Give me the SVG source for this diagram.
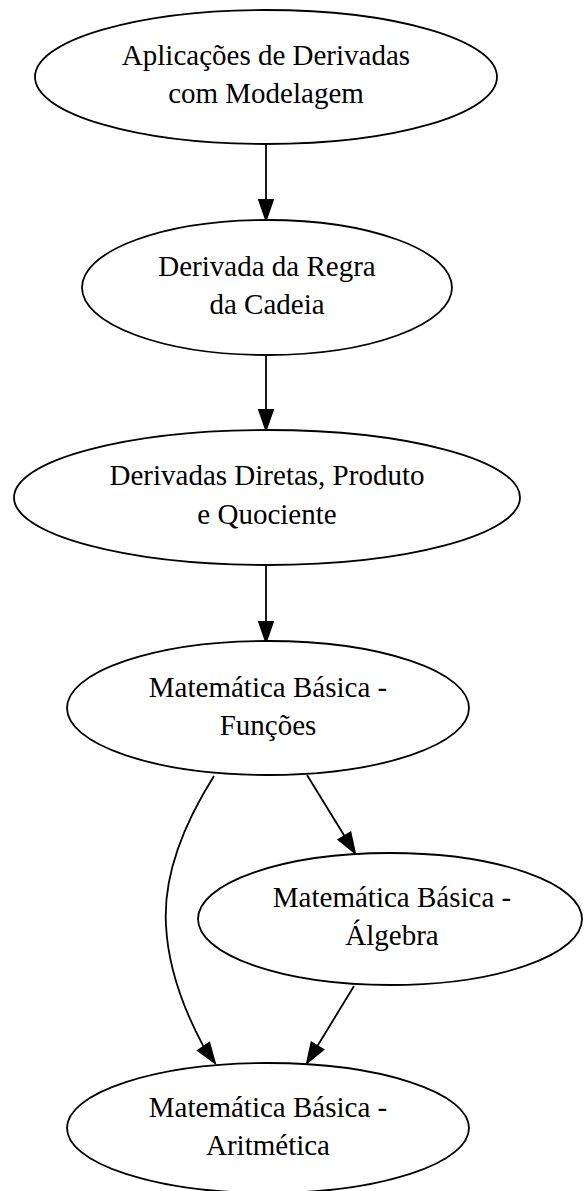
<svg xmlns="http://www.w3.org/2000/svg" width="584" height="1191" viewBox="0 0 584 1191">
<style>
.node ellipse{fill:#fff;stroke:#000;stroke-width:1.8}
.node text{font-family:"Liberation Serif","Times New Roman",serif;font-size:29px;fill:#000;text-anchor:middle}
.edge path{fill:none;stroke:#000;stroke-width:1.8}
.edge polygon{fill:#000;stroke:#000;stroke-width:1.8}
</style>
<rect width="584" height="1191" fill="#fff"/>
<g id="edges">
<g class="edge" id="e1"><path d="M266,144 L266,200"/><polygon points="266,220 259,200 273,200"/></g>
<g class="edge" id="e2"><path d="M266,355 L266,410"/><polygon points="266,430 259,410 273,410"/></g>
<g class="edge" id="e3"><path d="M266,565 L266,622"/><polygon points="266,642 259,622 273,622"/></g>
<g class="edge" id="e4"><path d="M307,775 L344.5,836"/><polygon points="355,853 338.5,839.7 350.5,832.4"/></g>
<g class="edge" id="e5"><path d="M214,776 C185,822 163,875 166,925 C168,968 184,1010 203.6,1046.6"/><polygon points="215,1063 197.9,1050.6 209.3,1042.6"/></g>
<g class="edge" id="e6"><path d="M354,986 L317.4,1046"/><polygon points="307,1063 311.4,1042.4 323.4,1049.7"/></g>
</g>
<g class="node" id="n1"><ellipse cx="266" cy="77" rx="231" ry="67"/><text x="266" y="65">Aplicações de Derivadas</text><text x="266" y="103">com Modelagem</text></g>
<g class="node" id="n2"><ellipse cx="267" cy="287.5" rx="185" ry="67.5"/><text x="267" y="276">Derivada da Regra</text><text x="267" y="314">da Cadeia</text></g>
<g class="node" id="n3"><ellipse cx="267" cy="497.5" rx="253" ry="67.5"/><text x="267" y="485">Derivadas Diretas, Produto</text><text x="267" y="524">e Quociente</text></g>
<g class="node" id="n4"><ellipse cx="268" cy="708" rx="201" ry="67"/><text x="268" y="697">Matemática Básica -</text><text x="268" y="735">Funções</text></g>
<g class="node" id="n5"><ellipse cx="390" cy="919" rx="192" ry="66"/><text x="392" y="907">Matemática Básica -</text><text x="392" y="945">Álgebra</text></g>
<g class="node" id="n6"><ellipse cx="268" cy="1128" rx="201" ry="65"/><text x="268" y="1117">Matemática Básica -</text><text x="268" y="1155">Aritmética</text></g>
</svg>
